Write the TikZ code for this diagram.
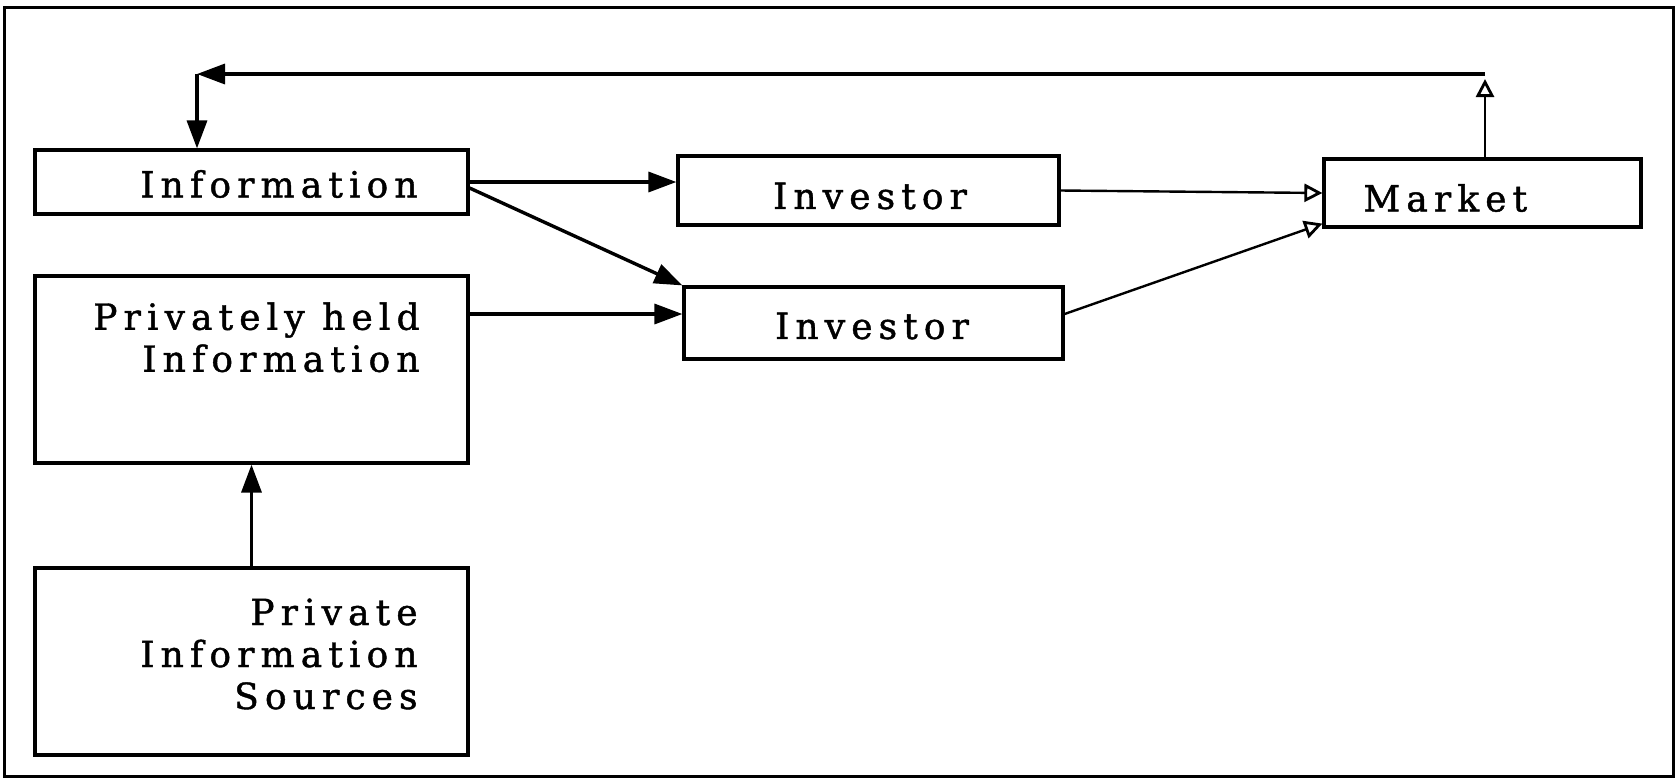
\documentclass[tikz,border=0pt]{standalone}
\usepackage{fontspec}
\usepackage{tikz}
\usetikzlibrary{positioning,calc,arrows.meta}
\newfontfamily\boxfont[LetterSpace=17,FakeBold=1.2]{DejaVu Serif}
\definecolor{InkBlack}{HTML}{000000}
\definecolor{PaperWhite}{HTML}{FFFFFF}
\tikzset{
  box/.style={draw=InkBlack, line width=1.6pt, fill=PaperWhite, inner sep=0pt},
  boxtext/.style={font=\boxfont\fontsize{18}{21}\selectfont, text=InkBlack, inner sep=0pt},
  flow/.style={draw=InkBlack, line width=1.7pt, -{Triangle[length=14pt,width=10pt]}},
  thinflow/.style={draw=InkBlack, line width=1.2pt, -{Triangle[open,length=9pt,width=9pt,line width=1.4pt]}}
}

\begin{document}
\begin{tikzpicture}[x=1pt,y=-1pt]
    \useasboundingbox (0,0) rectangle (840,389);
    \draw[InkBlack, line width=1.5pt] (2,3.5) rectangle (836.5,388);

    % boxes on the left
    \node[box, minimum width=216.5pt, minimum height=32pt] (info) at (125.75,91) {};
    \node[box, minimum width=216.5pt, minimum height=93.5pt] (priv) at (125.75,184.75) {};
    \node[box, minimum width=216.5pt, minimum height=93.5pt] (src) at (125.75,330.75) {};
    \node[boxtext, anchor=east] (infotext) at (209,92) {Information};
    \node[boxtext, align=right, anchor=north east] (privtext) at (210,151) {Privately held\\Information};
    \node[boxtext, align=right, anchor=east] (srctext) at (209,327) {Private\\Information\\Sources};

    % investors and market
    \node[box, minimum width=190.5pt, minimum height=34.5pt] (invA) at (434.25,95.25) {};
    \node[box, minimum width=189.5pt, minimum height=36pt] (invB) at (436.75,161.5) {};
    \node[box, minimum width=158.5pt, minimum height=34pt] (market) at (741.25,96.5) {};
    \node[boxtext] (invAtext) at (435,98) {Investor};
    \node[boxtext] (invBtext) at (436,163) {Investor};
    \node[boxtext, anchor=west] (markettext) at (681.5,99) {Market};

    % feedback loop
    \coordinate (loopR) at (742.5,37);
    \coordinate (loopL) at (98.5,37);
    \draw[thinflow] (market.north -| loopR) -- ([yshift=-2.5pt]loopR);
    \draw[flow] (loopR) -- (loopL);
    \draw[flow] (loopL) -- (info.north -| loopL);

    % flows
    \draw[flow] (info.east) -- (info.east -| invA.west);
    \draw[flow] ([yshift=-3pt]info.east) -- (invB.north west);
    \draw[flow] ([yshift=4.5pt]invB.west -| priv.east) -- ([yshift=4.5pt]invB.west);
    \draw[flow] (src.north) -- (priv.south);
    \draw[thinflow] (invA.east) -- (market.west);
    \draw[thinflow] ([yshift=4.5pt]invB.east) -- ([yshift=2.5pt]market.south west);
\end{tikzpicture}
\end{document}
